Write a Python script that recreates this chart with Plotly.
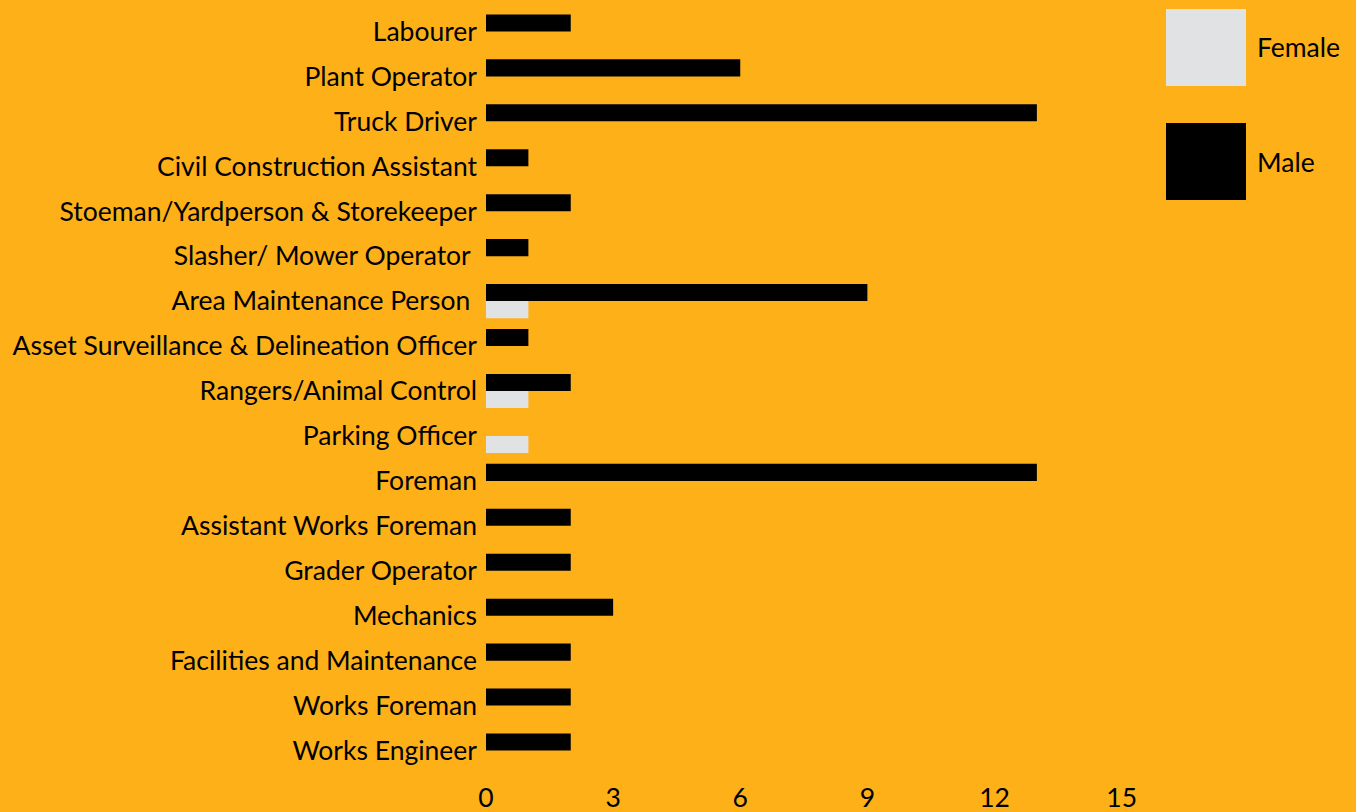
import plotly.graph_objects as go

categories = [
    "Labourer", "Plant Operator", "Truck Driver", "Civil Construction Assistant",
    "Stoeman/Yardperson & Storekeeper", "Slasher/ Mower Operator ",
    "Area Maintenance Person ", "Asset Surveillance & Delineation Officer",
    "Rangers/Animal Control", "Parking Officer", "Foreman",
    "Assistant Works Foreman", "Grader Operator", "Mechanics",
    "Facilities and Maintenance", "Works Foreman", "Works Engineer",
]
male = [2, 6, 13, 1, 2, 1, 9, 1, 2, 0, 13, 2, 2, 3, 2, 2, 2]
female = [0, 0, 0, 0, 0, 0, 1, 0, 1, 1, 0, 0, 0, 0, 0, 0, 0]
x_ticks = [0, 3, 6, 9, 12, 15]

BG = "#FDB018"
FEMALE_C = "#E1E2E4"
MALE_C = "#000000"
FONT = "Lato"
FS = 26.5

W, H = 1356, 812
ML, MR, MT, MB = 486, 192, 9, 39
PW, PH = W - ML - MR, H - MT - MB

fig = go.Figure()
fig.add_trace(go.Bar(y=categories, x=male, orientation="h", name="Male",
                     marker=dict(color=MALE_C, line=dict(width=0))))
fig.add_trace(go.Bar(y=categories, x=female, orientation="h", name="Female",
                     marker=dict(color=FEMALE_C, line=dict(width=0))))

fig.update_layout(
    width=W, height=H,
    paper_bgcolor=BG, plot_bgcolor=BG,
    barmode="group", bargap=0.24, bargroupgap=0,
    showlegend=False,
    margin=dict(l=ML, r=MR, t=MT, b=MB, pad=0, autoexpand=False),
    font=dict(family=FONT, size=FS, color="#000000"),
    xaxis=dict(range=[0, 16], tickvals=x_ticks, showgrid=False, zeroline=False,
               showline=False, ticks="", tickfont=dict(size=FS), ticklabelstandoff=6,
               automargin=False),
    yaxis=dict(autorange="reversed", showgrid=False, zeroline=False,
               showline=False, ticks="", ticklabelstandoff=8, tickfont=dict(size=FS),
               automargin=False),
)

# legend built as swatches + labels in paper coordinates
legend_items = [("Female", FEMALE_C), ("Male", MALE_C)]
for i, (name, col) in enumerate(legend_items):
    top = 9 + i * 114
    bot = 86 + i * 114
    fig.add_shape(type="rect", xref="paper", yref="paper",
                  x0=(1166 - ML) / PW, x1=(1246 - ML) / PW,
                  y0=(H - MB - bot) / PH, y1=(H - MB - top) / PH,
                  fillcolor=col, line=dict(width=0), layer="above")
    fig.add_annotation(xref="paper", yref="paper",
                       x=(1255 - ML) / PW, y=(H - MB - (top + bot) / 2) / PH,
                       text=name, showarrow=False, xanchor="left", yanchor="middle",
                       font=dict(family=FONT, size=FS, color="#000000"))

fig.write_html("out.html", config={"displayModeBar": False},
               post_script="document.body.style.margin='0';")
